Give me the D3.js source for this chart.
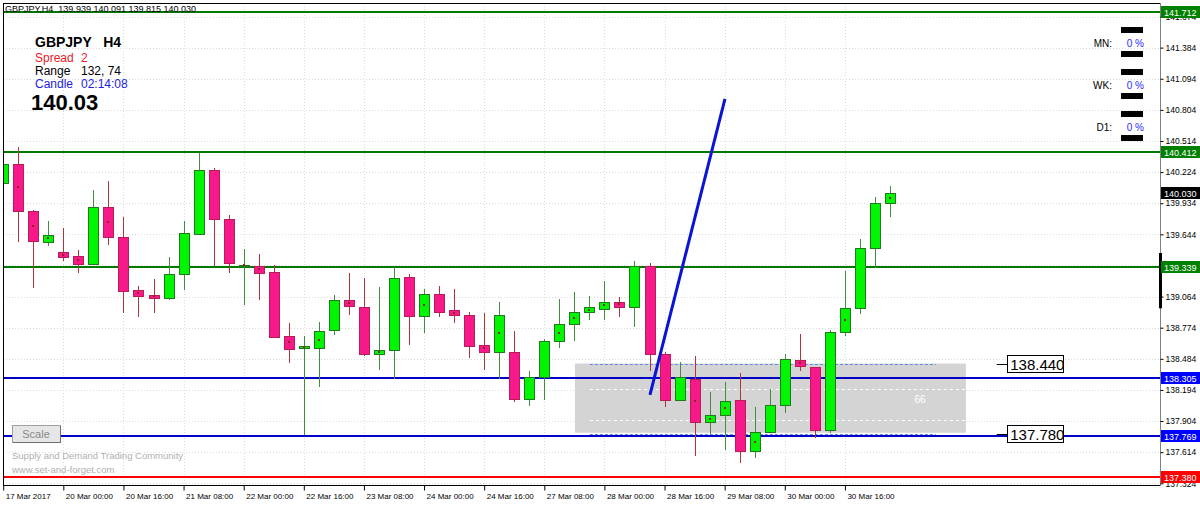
<!DOCTYPE html>
<html><head><meta charset="utf-8">
<script src="https://cdn.jsdelivr.net/npm/d3@7"></script>
<style>body{margin:0;background:#fff}svg{display:block}text{font-family:"Liberation Sans",Arial,sans-serif}</style>
</head><body><svg id="c" width="1200" height="505"></svg>
<script>
// ---------- data ----------
const timeLabels = ["17 Mar 2017","20 Mar 00:00","20 Mar 16:00","21 Mar 08:00","22 Mar 00:00","22 Mar 16:00","23 Mar 08:00","24 Mar 00:00","24 Mar 16:00","27 Mar 08:00","28 Mar 00:00","28 Mar 16:00","29 Mar 08:00","30 Mar 00:00","30 Mar 16:00"];
const opens  = [140.123,140.300,139.862,139.573,139.479,139.442,139.368,139.899,139.619,139.125,139.079,139.051,139.275,139.647,140.244,139.787,139.349,139.349,139.293,138.697,138.586,138.585,138.752,139.032,138.967,138.529,138.566,139.246,138.883,139.088,138.939,138.892,138.613,138.548,138.548,138.109,138.314,138.650,138.808,138.920,138.948,139.014,138.967,139.349,138.529,138.100,138.296,137.895,137.960,138.100,137.625,137.802,138.054,138.473,138.408,137.821,138.734,138.957,139.517,139.939];
const highs  = [140.430,140.458,139.871,139.768,139.703,139.498,140.057,140.141,139.806,139.163,139.228,139.433,139.768,140.402,140.262,139.824,139.508,139.461,139.359,138.817,138.698,138.827,139.079,139.284,139.237,139.153,139.340,139.274,139.135,139.163,139.135,138.920,138.911,139.014,138.743,138.371,138.668,139.042,139.107,139.070,139.209,139.060,139.396,139.377,138.548,138.454,138.510,138.175,138.268,138.352,138.035,138.203,138.529,138.715,138.408,138.752,139.302,139.601,139.992,140.091];
const lows   = [139.730,139.582,139.153,139.545,139.405,139.293,139.368,139.554,138.920,138.883,138.920,139.042,139.135,139.647,139.359,139.293,138.995,139.042,138.687,138.454,137.783,138.231,138.715,138.902,138.520,138.393,138.306,138.622,138.734,138.883,138.827,138.501,138.389,138.306,138.091,138.054,138.109,138.594,138.660,138.855,138.855,138.883,138.790,138.380,138.044,138.100,137.588,137.793,137.644,137.522,137.569,137.802,137.988,138.380,137.755,137.802,138.706,138.911,139.340,139.815];
const closes = [140.300,139.862,139.582,139.638,139.433,139.368,139.899,139.619,139.116,139.069,139.051,139.275,139.657,140.244,139.787,139.377,139.359,139.284,138.687,138.576,138.605,138.743,139.032,138.976,138.529,138.566,139.237,138.883,139.088,138.920,138.892,138.603,138.548,138.892,138.109,138.314,138.650,138.808,138.920,138.967,139.014,138.967,139.349,138.529,138.100,138.314,137.895,137.960,138.091,137.625,137.802,138.054,138.483,138.417,137.821,138.734,138.957,139.517,139.936,140.030];
const markedBars = [0,1,2,3,4,5,7,9,10,16,17,19,20,21,23,25,28,30,32,33,37,38,39,40,41,46,47,48,50,53,56,59];
const priceTicks = [137.324,137.614,137.904,138.194,138.484,138.774,139.064,139.354,139.644,139.934,140.224,140.514,140.804,141.094,141.384,141.674];
const greenLevels = [141.712,140.412,139.339];
const blueLevels  = [138.305,137.769];
const redLevels   = [137.380];
const currentPrice = 140.030;
const zoneTop = 138.440, zoneBottom = 137.780, zoneBoxBottom = 137.795;
const zoneInner = [138.200,137.911];
const zoneStartBar = 38.04, zoneEndBar = 64.05, zoneDashStart = 39.03, zoneDashEnd = 62.05;
const zonePips = "66";
const trendBars = [43.03, 48.02];
const trendPrices = [138.147, 140.906];
const axisMarker = [138.955, 139.470];
const infoRows = [["Spread","2"],["Range","132, 74"],["Candle","02:14:08"]];
const tfRows = ["MN:","WK:","D1:"];
const tfValues = ["0 %","0 %","0 %"];

// ---------- layout ----------
const svg = d3.select("#c");
const L = 3, R = 1160, T = 3, B = 485;
const x = d3.scaleLinear().domain([0, 59]).range([3.2, 890]);
const y = d3.scaleLinear().domain([137.324, 141.674]).range([483.3, 16.5]);
const px = v => Math.round(v) + 0.5;

svg.append("defs").append("clipPath").attr("id","clip")
  .append("rect").attr("x",L).attr("y",T).attr("width",R-L).attr("height",B-T);

const plot = svg.append("g").attr("clip-path","url(#clip)");

// grid
plot.selectAll(".hg").data(priceTicks).join("line")
  .attr("x1",L).attr("x2",R).attr("y1",d=>px(y(d))).attr("y2",d=>px(y(d)))
  .attr("stroke","#dcdcdc").attr("stroke-dasharray","1,2");
plot.selectAll(".vg").data(timeLabels.map((d,i)=>i*4)).join("line")
  .attr("x1",d=>px(x(d))).attr("x2",d=>px(x(d))).attr("y1",T).attr("y2",B)
  .attr("stroke","#dcdcdc").attr("stroke-dasharray","1,2");

// zone box
plot.append("rect")
  .attr("x",x(zoneStartBar)).attr("width",x(zoneEndBar)-x(zoneStartBar))
  .attr("y",y(zoneTop)).attr("height",y(zoneBoxBottom)-y(zoneTop))
  .attr("fill","#d4d4d4");
plot.selectAll(".zi").data(zoneInner).join("line")
  .attr("x1",x(zoneDashStart)).attr("x2",x(zoneEndBar))
  .attr("y1",d=>px(y(d))).attr("y2",d=>px(y(d)))
  .attr("stroke","#ffffff").attr("stroke-dasharray","3,3");
plot.selectAll(".zd").data([zoneTop, zoneBottom]).join("line")
  .attr("x1",x(zoneDashStart)).attr("x2",x(zoneDashEnd))
  .attr("y1",d=>px(y(d))).attr("y2",d=>px(y(d)))
  .attr("stroke","#5f86e8").attr("stroke-dasharray","3,2");
plot.append("text").attr("x",x(61)).attr("y",y((zoneTop+zoneBottom)/2)+4)
  .attr("text-anchor","middle").attr("font-size",10).attr("fill","#ffffff").text(zonePips);

// horizontal levels
function levels(arr, color){
  plot.selectAll(null).data(arr).join("line")
    .attr("x1",L).attr("x2",R).attr("y1",d=>Math.round(y(d))).attr("y2",d=>Math.round(y(d)))
    .attr("stroke",color).attr("stroke-width",2);
}
levels(greenLevels,"#007a00");
levels(blueLevels,"#0000c8");
levels(redLevels,"#ff0000");

// candles
const bars = d3.range(opens.length).map(i=>({i,o:opens[i],h:highs[i],l:lows[i],c:closes[i],m:markedBars.includes(i)}));
const g = plot.selectAll(".candle").data(bars).join("g");
g.append("line")
  .attr("x1",d=>px(x(d.i))).attr("x2",d=>px(x(d.i)))
  .attr("y1",d=>Math.round(y(d.h))).attr("y2",d=>Math.round(y(d.l))+1)
  .attr("stroke",d=>d.c>=d.o?"#3f8f3f":"#b0343c");
g.append("rect")
  .attr("x",d=>px(x(d.i))-5).attr("width",10)
  .attr("y",d=>px(y(Math.max(d.o,d.c))))
  .attr("height",d=>Math.max(1,Math.round(y(Math.min(d.o,d.c)))-Math.round(y(Math.max(d.o,d.c)))))
  .attr("fill",d=>d.c>=d.o?"#00f500":"#f7198a")
  .attr("stroke",d=>d.c>=d.o?"#1f7a1f":"#b81e55");
g.filter(d=>d.m).append("rect")
  .attr("x",d=>Math.round(x(d.i))-1).attr("width",2)
  .attr("y",d=>Math.round(y((d.o+d.c)/2))-1).attr("height",2)
  .attr("fill","#8a2a1a");

// trend line
plot.append("line")
  .attr("x1",x(trendBars[0])).attr("y1",y(trendPrices[0]))
  .attr("x2",x(trendBars[1])).attr("y2",y(trendPrices[1]))
  .attr("stroke","#0a14d2").attr("stroke-width",3);

// zone price labels
[zoneTop, zoneBottom].forEach(p=>{
  const yy = Math.round(y(p));
  plot.append("line").attr("x1",x(66.1)).attr("x2",x(66.8)).attr("y1",yy+0.5).attr("y2",yy+0.5).attr("stroke","#000");
  plot.append("rect").attr("x",px(x(66.8))).attr("y",yy-8.5).attr("width",56).attr("height",17)
    .attr("fill","#fff").attr("stroke","#000");
  plot.append("text").attr("x",x(66.8)+3).attr("y",yy+6).attr("font-size",15).attr("fill","#000")
    .text(d3.format(".3f")(p));
});

// frame
svg.append("rect").attr("x",L+0.5).attr("y",T+0.5).attr("width",R-L).attr("height",B-T)
  .attr("fill","none").attr("stroke","#000");
svg.append("line").attr("x1",R+0.5).attr("x2",R+0.5).attr("y1",T).attr("y2",B+1).attr("stroke","#808080");

// price axis
const yAxis = d3.axisRight(y).tickValues(priceTicks).tickFormat(d3.format(".3f")).tickSize(3).tickPadding(2);
const ya = svg.append("g").attr("transform",`translate(${R+0.5},0)`).call(yAxis);
ya.select(".domain").remove();
ya.selectAll("text").attr("font-size",8.5).attr("fill","#000").attr("font-family","Liberation Sans, Arial");
ya.selectAll("line").attr("stroke","#000");

svg.append("rect").attr("x",R-1).attr("width",3)
  .attr("y",y(axisMarker[1])).attr("height",y(axisMarker[0])-y(axisMarker[1])).attr("fill","#000");

// time axis
const xAxis = d3.axisBottom(x).tickValues(timeLabels.map((d,i)=>i*4))
  .tickFormat((d,i)=>timeLabels[i]).tickSize(5).tickPadding(3);
const xa = svg.append("g").attr("transform",`translate(0,${B+0.5})`).call(xAxis);
xa.select(".domain").remove();
xa.selectAll("text").attr("text-anchor","start").attr("dx",2).attr("font-size",8).attr("fill","#000").attr("font-family","Liberation Sans, Arial");
xa.selectAll("line").attr("stroke","#000");

// level labels on the axis
function axisLabel(p, bg){
  const yy = Math.round(y(p));
  svg.append("rect").attr("x",R+1).attr("y",yy-6).attr("width",40).attr("height",12).attr("fill",bg);
  svg.append("text").attr("x",R+4).attr("y",yy+3.5).attr("font-size",9).attr("fill","#fff").text(d3.format(".3f")(p));
}
greenLevels.forEach(p=>axisLabel(p,"#008000"));
blueLevels.forEach(p=>axisLabel(p,"#0000ff"));
redLevels.forEach(p=>axisLabel(p,"#ff0000"));
axisLabel(currentPrice,"#000000");

// header
svg.append("text").attr("x",5).attr("y",12).attr("font-size",9).attr("fill","#000")
  .style("white-space","pre").text("GBPJPY,H4  139.939 140.091 139.815 140.030");
svg.append("text").attr("x",35).attr("y",47).attr("font-size",14).attr("font-weight","bold").attr("fill","#000")
  .style("white-space","pre").text("GBPJPY   H4");
const infoColors = ["#e8202a","#000000","#2020e0"];
infoRows.forEach((r,i)=>{
  svg.append("text").attr("x",35).attr("y",62+i*12.8).attr("font-size",12).attr("fill",infoColors[i]).text(r[0]);
  svg.append("text").attr("x",81).attr("y",62+i*12.8).attr("font-size",12).attr("fill",infoColors[i]).text(r[1]);
});
svg.append("text").attr("x",31).attr("y",110).attr("font-size",22).attr("font-weight","bold")
  .attr("font-family","DejaVu Sans, sans-serif").attr("fill","#000").text(currentPrice.toFixed(2));

// MN/WK/D1 panel
tfRows.forEach((t,i)=>{
  const by = 27 + i*42;
  svg.append("rect").attr("x",1121).attr("y",by).attr("width",22).attr("height",6).attr("fill","#000");
  svg.append("rect").attr("x",1121).attr("y",by+24).attr("width",22).attr("height",6).attr("fill","#000");
  svg.append("text").attr("x",1112).attr("y",by+20).attr("text-anchor","end").attr("font-size",10).attr("fill","#000").text(t);
  svg.append("text").attr("x",1144).attr("y",by+20).attr("text-anchor","end").attr("font-size",10).attr("fill","#2a2aff").text(tfValues[i]);
});

// Scale button & watermark
svg.append("rect").attr("x",12.5).attr("y",425.5).attr("width",48).attr("height",17).attr("fill","#e6e6e6").attr("stroke","#a0a0a0");
svg.append("line").attr("x1",13).attr("x2",60).attr("y1",442.5).attr("y2",442.5).attr("stroke","#707070");
svg.append("line").attr("x1",60.5).attr("x2",60.5).attr("y1",426).attr("y2",443).attr("stroke","#707070");
svg.append("text").attr("x",36).attr("y",438).attr("text-anchor","middle").attr("font-size",11).attr("fill","#888").text("Scale");
svg.append("text").attr("x",12).attr("y",459).attr("font-size",9.5).attr("fill","#b0b0b0").text("Supply and Demand Trading Community");
svg.append("text").attr("x",12).attr("y",473).attr("font-size",9.5).attr("fill","#b0b0b0").text("www.set-and-forget.com");
</script></body></html>
